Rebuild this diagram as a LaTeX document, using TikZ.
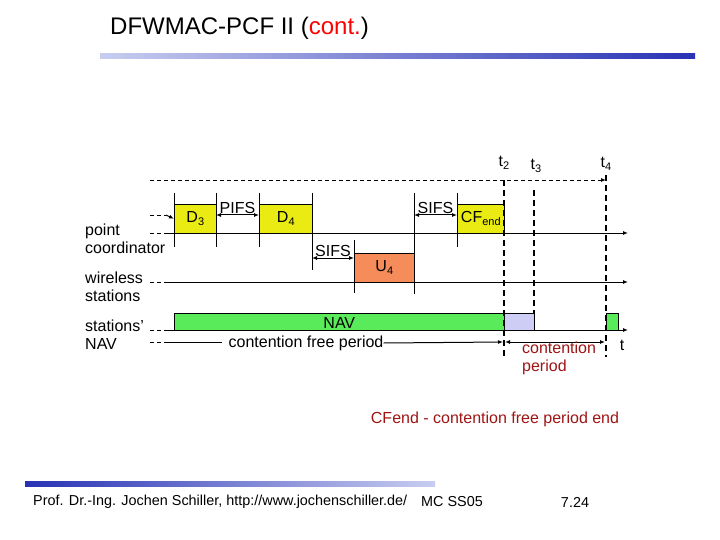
\documentclass[tikz,border=0pt]{standalone}
\usepackage{fontspec}
\setmainfont{Liberation Sans}
\usetikzlibrary{arrows.meta}
\definecolor{dred}{RGB}{160,20,20}
\definecolor{ylw}{RGB}{235,235,20}
\definecolor{org}{RGB}{245,140,90}
\definecolor{grn}{RGB}{90,235,90}
\definecolor{lav}{RGB}{205,205,245}
\definecolor{bardk}{RGB}{40,50,180}
\definecolor{barlt}{RGB}{200,205,240}
\newcommand{\mysub}[1]{\raisebox{-0.35ex}{\fontsize{11}{12}\selectfont #1}}
\begin{document}
\begin{tikzpicture}[x=1pt,y=-1pt,
  lab/.style={font=\fontsize{16}{18}\selectfont,inner sep=0pt},
  ln/.style={line width=1pt},
  arr/.style={ln,-{Latex[length=5pt,width=4pt]}},
  darr/.style={ln,{Latex[length=5pt,width=4pt]}-{Latex[length=5pt,width=4pt]}},
  dsh/.style={line width=0.9pt,dash pattern=on 4pt off 3pt},
  vdsh/.style={line width=1.6pt,dash pattern=on 6pt off 4pt},
  tick/.style={line width=0.6pt},
  box/.style={draw,line width=0.6pt}]
\useasboundingbox (0,0) rectangle (720,540);
% title
\node[anchor=west,font=\fontsize{24}{26}\selectfont,inner sep=0pt] (title) at (110,28) {DFWMAC-PCF II (\textcolor{red}{cont.})};
\shade[left color=barlt,right color=bardk] (100,54) rectangle (695,59);
\shade[left color=bardk,right color=barlt] (25,481) rectangle (435,486);
\node[anchor=west,font=\fontsize{14.4}{16}\selectfont,inner sep=0pt] (f1) at (33,502) {Prof. Dr.-Ing. Jochen Schiller, http://www.jochenschiller.de/};
\node[font=\fontsize{14.4}{16}\selectfont,inner sep=0pt] (f2) at (452,502) {MC SS05};
\node[font=\fontsize{14.4}{16}\selectfont,inner sep=0pt] (f3) at (575,502) {7.24};
% left labels
\node[lab,anchor=west,align=left] (pc) at (85,239) {point\\coordinator};
\node[lab,anchor=west,align=left] (ws) at (85,287) {wireless\\stations};
\node[lab,anchor=west,align=left] (nav) at (85,335) {stations'\\NAV};
% coordinates
\coordinate (tops) at (150,180); \coordinate (tope) at (606,180);
% top dashed
\draw[dsh,-{Latex[length=5pt,width=4pt]}] (tops) -- (tope);
% boxes
\node[box,fill=ylw,minimum width=42pt,minimum height=29pt,anchor=north west,inner sep=0pt] (d3) at (174,204) {};
\node[lab] at (d3.center) {D\mysub{3}};
\node[box,fill=ylw,minimum width=53pt,minimum height=29pt,anchor=north west,inner sep=0pt] (d4) at (259,204) {};
\node[lab] at (d4.center) {D\mysub{4}};
\node[box,fill=org,minimum width=60pt,minimum height=29pt,anchor=north west,inner sep=0pt] (u4) at (354,253) {};
\node[lab] at (u4.center) {U\mysub{4}};
\node[box,fill=ylw,minimum width=47pt,minimum height=29pt,anchor=north west,inner sep=0pt] (cf) at (457,204) {};
\node[lab] at (cf.center) {CF\mysub{end}};
\node[box,fill=grn,minimum width=330pt,minimum height=17pt,anchor=north west,inner sep=0pt] (navb) at (174,313) {};
\node[lab] at ([yshift=-1pt]navb.center) {NAV};
\node[box,fill=lav,minimum width=30pt,minimum height=17pt,anchor=north west,inner sep=0pt] (lavb) at (504,313) {};
\node[box,fill=grn,minimum width=12pt,minimum height=17pt,anchor=north west,inner sep=0pt] (g2) at (606,313) {};
% first arrow to D3
\draw[dsh] (150,215) -- (166,215);
\draw[arr] (166,215) -- (d3.west);
% time lines
\draw[dsh] (150,233) -- (168,233); \draw[arr] (168,233) -- (628,233);
\draw[dsh] (150,282) -- (168,282); \draw[arr] (168,282) -- (628,282);
\draw[dsh] (150,330) -- (168,330); \draw[ln] (168,330) -- (174,330);
\draw[ln] (534,330) -- (606,330); \draw[arr] (618,330) -- (628,330);
% ticks
\foreach \x in {174,216,259,457} \draw[tick] (\x,193) -- (\x,247);
\draw[tick] (312,193) -- (312,270);
\draw[tick] (354,240) -- (354,293);
\draw[tick] (414,193) -- (414,294);
% interval arrows
\draw[darr] (216,215) -- node[lab,above=1pt] (pifs) {PIFS} (259,215);
\draw[darr] (312,258) -- node[lab,above=1pt] (sifs1) {SIFS} (354,258);
\draw[darr] (414,215) -- node[lab,above=1pt] (sifs2) {SIFS} (457,215);
% contention free period
\node[lab] (cfp) at (306,343) {contention free period};
\draw[dsh] (150,342) -- (168,342); \draw[ln] (168,342) -- (222,342);
\draw[arr] (cfp.east) -- (503,342);
\draw[darr] (505,342) -- (605,342);
\node[lab,text=dred,align=left,anchor=north west] (cp) at (522,342) {contention\\period};
\node[lab] (t) at (622,345) {t};
% vertical dashed
\draw[vdsh] (504,180) -- (504,357);
\draw[vdsh] (534,190) -- (534,313);
\draw[vdsh] (606,175) -- (606,357);
\node[lab] (t2) at (504,163) {t\mysub{2}};
\node[lab] (t3) at (536,166) {t\mysub{3}};
\node[lab] (t4) at (606,164) {t\mysub{4}};
\node[lab,text=dred] (cfe) at (495,419) {CFend - contention free period end};
\end{tikzpicture}
\end{document}
